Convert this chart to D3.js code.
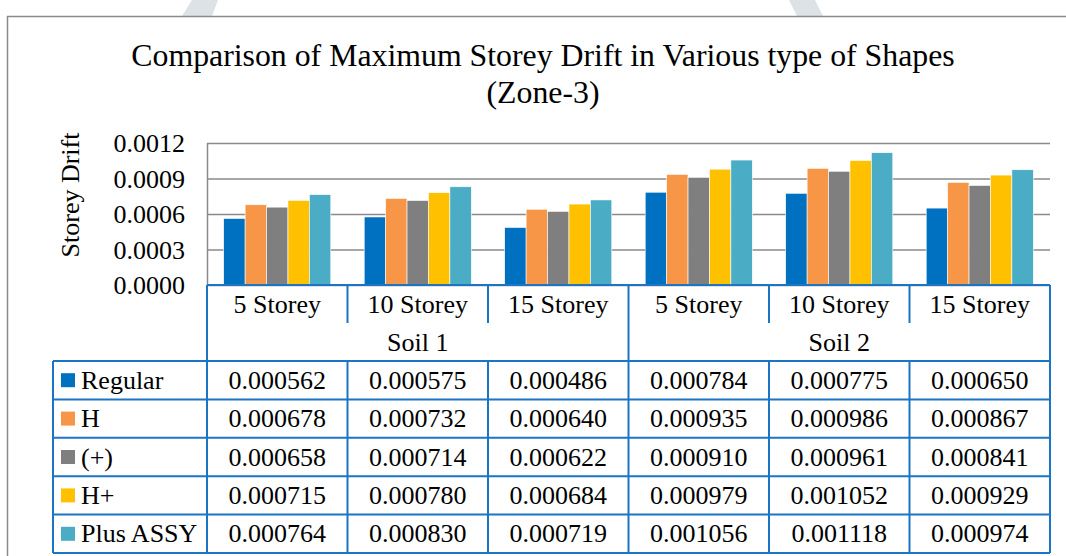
<!DOCTYPE html>
<html>
<head>
<meta charset="utf-8">
<script src="https://cdn.jsdelivr.net/npm/d3@7"></script>
<style>
  body { margin: 0; background: #fff; }
  svg { display: block; font-family: "Liberation Serif", "Times New Roman", serif; }
</style>
</head>
<body>
<div id="chart"></div>
<script>
// data
var categories = ["5 Storey", "10 Storey", "15 Storey", "5 Storey", "10 Storey", "15 Storey"];
var soils = ["Soil 1", "Soil 2"];
var seriesNames = ["Regular", "H", "(+)", "H+", "Plus ASSY"];
var seriesColors = ["#0070C0", "#F79646", "#7F7F7F", "#FFC000", "#4BACC6"];
var regular = [0.000562, 0.000575, 0.000486, 0.000784, 0.000775, 0.000650];
var hShape = [0.000678, 0.000732, 0.000640, 0.000935, 0.000986, 0.000867];
var plusShape = [0.000658, 0.000714, 0.000622, 0.000910, 0.000961, 0.000841];
var hPlus = [0.000715, 0.000780, 0.000684, 0.000979, 0.001052, 0.000929];
var plusAssy = [0.000764, 0.000830, 0.000719, 0.001056, 0.001118, 0.000974];
var yTicks = [0, 0.0003, 0.0006, 0.0009, 0.0012];

var values = [regular, hShape, plusShape, hPlus, plusAssy];

var W = 1066, H = 556;
var plot = { left: 207, right: 1050, top: 143, bottom: 285 };
var blue = "#1C74C4", grey = "#8A8A8A";
var headRow = 38, soilRow = 38, dataRow = 38.4;
var tableLeft = 53;

var svg = d3.select("#chart").append("svg")
    .attr("width", W).attr("height", H);

// faint shapes peeking in above the chart
svg.append("polygon").attr("points", "192,0 218,0 212,16 182,16").attr("fill", "#DCE2E6");
svg.append("polygon").attr("points", "789,0 815,0 823,16 797,16").attr("fill", "#DCE2E6");

// chart area border (top + left visible)
svg.append("line").attr("x1", 7).attr("x2", W).attr("y1", 16.5).attr("y2", 16.5)
    .attr("stroke", grey).attr("stroke-width", 1.5);
svg.append("line").attr("x1", 7.5).attr("x2", 7.5).attr("y1", 16).attr("y2", H)
    .attr("stroke", grey).attr("stroke-width", 1.5);

// title
svg.append("text").attr("x", 543).attr("y", 66).attr("text-anchor", "middle")
    .attr("font-size", 31.8).attr("fill", "#000")
    .text("Comparison of Maximum Storey Drift in Various type of Shapes");
svg.append("text").attr("x", 543).attr("y", 103).attr("text-anchor", "middle")
    .attr("font-size", 31.8).attr("fill", "#000")
    .text("(Zone-3)");

var y = d3.scaleLinear().domain([0, 0.0012]).range([plot.bottom, plot.top]);
var x0 = d3.scaleBand().domain(d3.range(categories.length)).range([plot.left, plot.right]);
var x1 = d3.scaleBand().domain(seriesNames).range([0, x0.bandwidth()])
    .paddingInner(0).paddingOuter(0.78);

// gridlines + y axis
var yAxis = d3.axisLeft(y).tickValues(yTicks).tickFormat(d3.format(".4f"))
    .tickSize(-(plot.right - plot.left)).tickPadding(22);
var gy = svg.append("g").attr("transform", "translate(" + plot.left + ",0)").call(yAxis);
gy.select(".domain").remove();
gy.selectAll(".tick line").attr("stroke", grey).attr("stroke-width", 1.5);
gy.selectAll(".tick text").attr("font-size", 26).attr("fill", "#000")
    .attr("font-family", "Liberation Serif, Times New Roman, serif")
    .attr("dy", "0.33em");
svg.append("line").attr("x1", plot.left + 0.5).attr("x2", plot.left + 0.5)
    .attr("y1", plot.top).attr("y2", plot.bottom).attr("stroke", grey).attr("stroke-width", 1.5);

svg.append("text").attr("transform", "translate(79," + 195 + ") rotate(-90)")
    .attr("text-anchor", "middle").attr("font-size", 26).text("Storey Drift");

// bars
seriesNames.forEach(function(name, s) {
    svg.append("g").selectAll("rect")
        .data(values[s])
        .join("rect")
        .attr("x", function(d, i) { return x0(i) + x1(name); })
        .attr("y", function(d) { return y(d); })
        .attr("width", x1.bandwidth())
        .attr("height", function(d) { return y(0) - y(d); })
        .attr("fill", seriesColors[s])
        .attr("stroke", "#fff").attr("stroke-width", 0.6);
});

// data table
var t = svg.append("g");
var rowTop = plot.bottom;
var soilTop = rowTop + headRow;
var dataTop = soilTop + soilRow;
var tableBottom = dataTop + dataRow * seriesNames.length;

categories.forEach(function(c, i) {
    t.append("text").attr("x", x0(i) + x0.bandwidth() / 2)
        .attr("y", rowTop + headRow / 2).attr("dy", "0.33em")
        .attr("text-anchor", "middle").attr("font-size", 26).text(c);
});
soils.forEach(function(s, k) {
    var a = x0(k * 3), b = x0(k * 3 + 2) + x0.bandwidth();
    t.append("text").attr("x", (a + b) / 2)
        .attr("y", soilTop + soilRow / 2).attr("dy", "0.33em")
        .attr("text-anchor", "middle").attr("font-size", 26).text(s);
});

seriesNames.forEach(function(name, s) {
    var cy = dataTop + dataRow * s + dataRow / 2;
    t.append("rect").attr("x", 61).attr("y", cy - 7).attr("width", 14).attr("height", 14)
        .attr("fill", seriesColors[s]);
    t.append("text").attr("x", 81).attr("y", cy).attr("dy", "0.33em")
        .attr("font-size", 26).text(name);
    values[s].forEach(function(v, i) {
        t.append("text").attr("x", x0(i) + x0.bandwidth() / 2).attr("y", cy).attr("dy", "0.33em")
            .attr("text-anchor", "middle").attr("font-size", 26).text(d3.format(".6f")(v));
    });
});

// table lines
function ln(x1_, y1_, x2_, y2_) {
    t.append("line").attr("x1", x1_).attr("y1", y1_).attr("x2", x2_).attr("y2", y2_)
        .attr("stroke", blue).attr("stroke-width", 2);
}
ln(plot.left, rowTop, plot.right, rowTop);
for (var i = 0; i <= categories.length; i++) {
    var xx = i < categories.length ? x0(i) : plot.right;
    ln(xx, rowTop, xx, soilTop);
    ln(xx, dataTop, xx, tableBottom);
}
ln(x0(3), soilTop, x0(3), dataTop);
ln(plot.left, soilTop, plot.left, dataTop);
ln(plot.right, soilTop, plot.right, dataTop);
for (var r = 0; r <= seriesNames.length; r++) {
    ln(tableLeft, dataTop + dataRow * r, plot.right, dataTop + dataRow * r);
}
ln(tableLeft, dataTop, tableLeft, tableBottom);
</script>
</body>
</html>
